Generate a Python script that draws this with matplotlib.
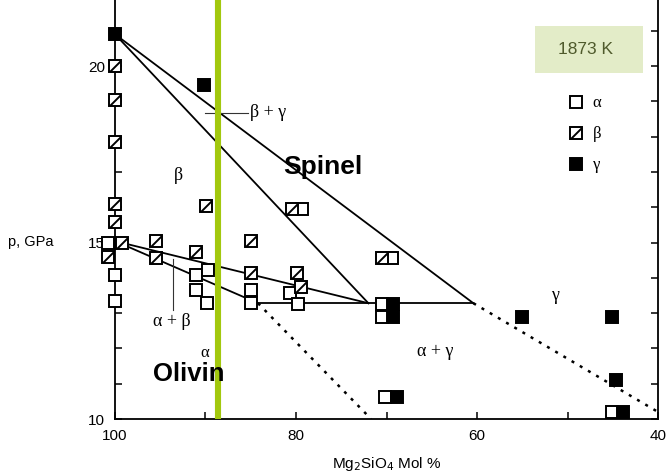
import matplotlib
matplotlib.use("Agg")
import matplotlib.pyplot as plt
import numpy as np
from matplotlib.lines import Line2D
from matplotlib.legend_handler import HandlerTuple
from matplotlib.patches import Rectangle
from matplotlib.path import Path

# phase observations, Mg2SiO4 mol % vs pressure (GPa)
alpha_x = [100.8, 100.0, 100.0, 91.1, 89.7, 91.1, 89.8, 85.0, 85.0, 80.7, 79.8, 79.3, 70.5, 70.5, 69.4, 70.2, 45.1]
alpha_y = [15.0, 14.08, 13.35, 14.08, 14.22, 13.65, 13.29, 13.65, 13.29, 13.57, 13.26, 15.95, 13.26, 12.9, 14.55, 10.62, 10.2]

beta_x = [100.0, 100.0, 100.0, 100.0, 100.0, 99.2, 100.8, 95.5, 95.5, 91.1, 89.9, 85.0, 85.0, 80.4, 79.9, 79.4, 70.5]
beta_y = [20.0, 19.05, 17.85, 16.1, 15.58, 15.0, 14.6, 15.04, 14.56, 14.73, 16.03, 15.04, 14.14, 15.95, 14.14, 13.74, 14.55]

gamma_x = [100.0, 90.2, 69.3, 69.3, 68.8, 55.0, 45.1, 44.6, 43.9]
gamma_y = [20.9, 19.46, 13.26, 12.9, 10.62, 12.9, 12.9, 11.1, 10.2]

# phase boundaries
solid_lines = [
    ([100.0, 60.4], [20.9, 13.28]),
    ([100.0, 72.0], [20.9, 13.28]),
    ([100.0, 72.0], [15.04, 13.28]),
    ([100.0, 84.2], [15.04, 13.28]),
    ([84.2, 60.4], [13.28, 13.28]),
]
dotted_lines = [
    ([84.2, 71.7], [13.28, 10.0]),
    ([60.4, 40.0], [13.28, 10.2]),
]

green_x = 88.6

x_ticks = [100, 90, 80, 70, 60, 50, 40]
x_labels = ["100", "", "80", "", "60", "", "40"]
y_ticks = list(range(10, 22))
y_labels = [str(v) if v in (10, 15, 20) else "" for v in y_ticks]

serif = ["Liberation Serif", "DejaVu Serif"]
sans = ["Liberation Sans", "DejaVu Sans"]
plt.rcParams["font.family"] = sans

fig = plt.figure(figsize=(6.67, 4.75), dpi=100)
ax = fig.add_axes([115 / 667, 56 / 475, 543 / 667, 419 / 475])

for xs, ys in solid_lines:
    ax.plot(xs, ys, color="black", lw=1.3, zorder=2)
for xs, ys in dotted_lines:
    ax.plot(xs, ys, color="black", lw=1.8, linestyle=(0, (1.2, 2.6)), zorder=2)

# leader lines for labels
ax.plot([90.05, 85.3], [18.67, 18.67], color="#333333", lw=0.8, zorder=2)
ax.plot([93.6, 93.6], [14.52, 13.1], color="#333333", lw=0.8, zorder=2)

ms = 8.6
mew = 1.4
diag = Path([(-1, -1), (1, 1)], [Path.MOVETO, Path.LINETO])

ax.plot(alpha_x, alpha_y, "s", ms=ms, mfc="white", mec="black", mew=mew,
        clip_on=False, zorder=3)
ax.plot(beta_x, beta_y, "s", ms=ms, mfc="white", mec="black", mew=mew,
        clip_on=False, zorder=3)
ax.plot(beta_x, beta_y, linestyle="none", marker=diag, ms=ms * 0.9, mfc="none",
        mec="black", mew=mew, clip_on=False, zorder=3.1)
ax.plot(gamma_x, gamma_y, "s", ms=ms, mfc="black", mec="black", mew=mew,
        clip_on=False, zorder=3)

ax.axvline(green_x, color="#a2c80e", lw=4.4, zorder=4)

# region labels
ax.text(77.0, 17.14, "Spinel", fontsize=19, fontweight="bold", ha="center",
        va="center", zorder=5)
ax.text(91.9, 11.28, "Olivin", fontsize=18.5, fontweight="bold", ha="center",
        va="center", zorder=5)
ax.text(85.1, 18.67, "β + γ", family=serif, fontsize=13, ha="left", va="center")
ax.text(93.0, 16.91, "β", family=serif, fontsize=13, ha="center", va="center")
ax.text(93.7, 12.75, "α + β", family=serif, fontsize=13, ha="center", va="center")
ax.text(90.05, 11.88, "α", family=serif, fontsize=12, ha="center", va="center")
ax.text(64.6, 11.9, "α + γ", family=serif, fontsize=13, ha="center", va="center")
ax.text(51.4, 13.5, "γ", family=serif, fontsize=13, ha="center", va="center")

# temperature box
ax.add_patch(Rectangle((41.66, 19.8), 53.6 - 41.66, 21.13 - 19.8, facecolor="#e3ecc8",
                       edgecolor="none", zorder=1))
ax.text(48.0, 20.46, "1873 K", fontsize=12.5, color="#4f5a2c",
        ha="center", va="center", zorder=5)

# legend
h_a = Line2D([], [], marker="s", ls="none", ms=ms, mfc="white", mec="black", mew=mew)
h_b1 = Line2D([], [], marker="s", ls="none", ms=ms, mfc="white", mec="black", mew=mew)
h_b2 = Line2D([], [], marker=diag, ls="none", ms=ms * 0.9, mfc="none", mec="black", mew=mew)
h_g = Line2D([], [], marker="s", ls="none", ms=ms, mfc="black", mec="black", mew=mew)
leg = ax.legend([h_a, (h_b1, h_b2), h_g], ["α", "β", "γ"],
                handler_map={tuple: HandlerTuple(ndivide=1)},
                loc="upper left", bbox_to_anchor=(0.806, 0.808), frameon=False,
                handlelength=1.0, handletextpad=0.5, labelspacing=0.9,
                prop={"family": serif, "size": 12})

ax.set_xlim(100, 40)
ax.set_ylim(10, 21.87)
ax.set_xticks(x_ticks)
ax.set_xticklabels(x_labels)
ax.set_yticks(y_ticks)
ax.set_yticklabels(y_labels)
ax.tick_params(direction="in", length=5, width=1.1, labelsize=11, pad=7)
ax.tick_params(axis="y", right=True, pad=7)
ax.spines["top"].set_visible(False)
for s in ["left", "right", "bottom"]:
    ax.spines[s].set_linewidth(1.3)

ax.set_xlabel("Mg$_2$SiO$_4$ Mol %", fontsize=11, labelpad=9)
fig.text(8 / 667, 1 - 242 / 475, "p, GPa", fontsize=10.5, ha="left", va="center")

fig.savefig("out.png", dpi=100)
